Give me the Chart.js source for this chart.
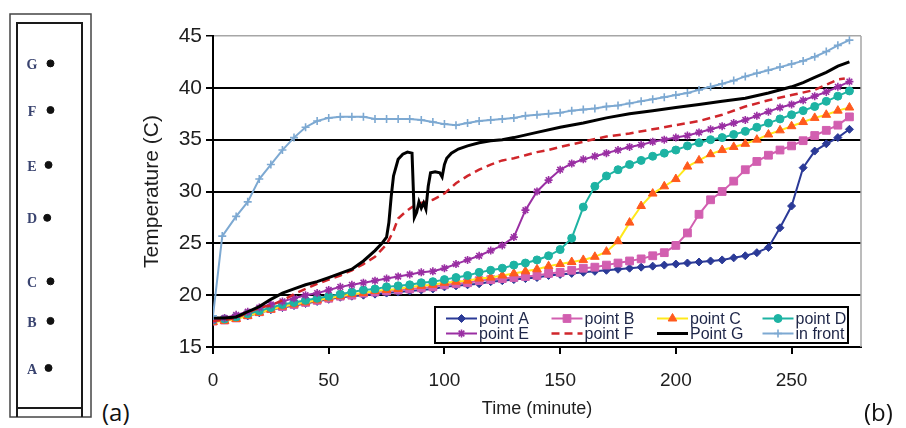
<!DOCTYPE html>
<html>
<head>
<meta charset="utf-8">
<script src="https://cdn.jsdelivr.net/npm/chart.js@4.4.1/dist/chart.umd.min.js"></script>
<style>
  html, body { margin: 0; padding: 0; background: #fff; }
  #page { position: relative; width: 906px; height: 428px; overflow: hidden; }
  canvas { position: absolute; top: 0; }
  #probe { left: 0; }
  #temps { left: 130px; }
  .tag { position: absolute; font-family: 'Open Sans', sans-serif; font-size: 24px; line-height: 24px; color: #111; }
</style>
</head>
<body>
<div id="page">
  <canvas id="probe" width="100" height="428"></canvas>
  <canvas id="temps" width="776" height="428"></canvas>
  <div class="tag" style="left:102px; top:400px">(a)</div>
  <div class="tag" style="left:864px; top:400px">(b)</div>
</div>
<script>
// sensor layout in the box (a): height in % of the inner box, horizontal offset in %
const sensorNames = ['A', 'B', 'C', 'D', 'E', 'F', 'G'];
const sensorHeight = [12.0, 24.0, 34.1, 50.3, 63.8, 77.8, 89.7];
const sensorOffset = [48.5, 51.5, 51.5, 46.5, 48.5, 51.5, 51.5];

// temperature records (b)
const minutes = [0, 5, 10, 15, 20, 25, 30, 35, 40, 45, 50, 55, 60, 65, 70, 75,
  80, 85, 90, 95, 100, 105, 110, 115, 120, 125, 130, 135, 140, 145, 150, 155,
  160, 165, 170, 175, 180, 185, 190, 195, 200, 205, 210, 215, 220, 225, 230, 235,
  240, 245, 250, 255, 260, 265, 270, 275];

const pointA = [17.5, 17.6, 17.8, 18.0, 18.3, 18.6, 18.8, 19.0, 19.2, 19.4, 19.6, 19.8, 19.9, 20.0, 20.1, 20.2,
  20.3, 20.4, 20.5, 20.6, 20.8, 20.9, 21.0, 21.1, 21.3, 21.4, 21.5, 21.6, 21.7, 21.9, 22.0, 22.1,
  22.2, 22.3, 22.4, 22.5, 22.6, 22.7, 22.8, 22.9, 23.0, 23.1, 23.2, 23.3, 23.4, 23.6, 23.8, 24.1,
  24.6, 26.5, 28.6, 32.3, 33.9, 34.6, 35.2, 36.0];

const pointB = [17.5, 17.6, 17.8, 18.1, 18.4, 18.7, 18.9, 19.1, 19.3, 19.5, 19.7, 19.9, 20.0, 20.2, 20.3, 20.4,
  20.5, 20.6, 20.7, 20.8, 21.0, 21.1, 21.2, 21.4, 21.5, 21.6, 21.7, 21.8, 21.9, 22.1, 22.2, 22.4,
  22.6, 22.7, 22.9, 23.1, 23.3, 23.5, 23.8, 24.1, 24.8, 26.0, 27.8, 29.2, 30.0, 31.0, 32.1, 32.9,
  33.5, 34.0, 34.4, 34.9, 35.4, 35.9, 36.4, 37.2];

const pointC = [17.4, 17.5, 17.7, 18.0, 18.3, 18.6, 18.9, 19.1, 19.3, 19.5, 19.7, 19.9, 20.1, 20.2, 20.4, 20.5,
  20.6, 20.8, 20.9, 21.0, 21.2, 21.3, 21.4, 21.6, 21.7, 21.9, 22.1, 22.3, 22.5, 22.8, 23.0, 23.2,
  23.4, 23.7, 24.2, 25.2, 27.0, 28.6, 29.8, 30.5, 31.2, 32.4, 33.0, 33.6, 34.0, 34.3, 34.6, 35.0,
  35.5, 35.9, 36.3, 36.7, 37.1, 37.4, 37.8, 38.1];

const pointD = [17.6, 17.7, 17.9, 18.2, 18.5, 18.8, 19.1, 19.3, 19.5, 19.7, 19.9, 20.1, 20.3, 20.5, 20.6, 20.8,
  20.9, 21.0, 21.2, 21.3, 21.5, 21.7, 21.9, 22.2, 22.4, 22.6, 22.9, 23.1, 23.4, 23.8, 24.4, 25.5,
  28.5, 30.5, 31.5, 32.1, 32.6, 33.0, 33.4, 33.7, 34.0, 34.4, 34.7, 35.0, 35.2, 35.5, 35.8, 36.2,
  36.6, 37.0, 37.4, 37.8, 38.2, 38.7, 39.2, 39.7];

const pointE = [17.6, 17.8, 18.1, 18.4, 18.8, 19.1, 19.4, 19.7, 20.0, 20.2, 20.5, 20.8, 21.0, 21.2, 21.4, 21.6,
  21.8, 22.0, 22.2, 22.3, 22.6, 23.0, 23.4, 23.8, 24.3, 24.8, 25.6, 28.2, 30.0, 31.1, 32.1, 32.7,
  33.1, 33.4, 33.7, 34.0, 34.3, 34.5, 34.8, 35.0, 35.2, 35.4, 35.7, 36.0, 36.3, 36.6, 36.9, 37.3,
  37.7, 38.1, 38.4, 38.8, 39.2, 39.6, 40.1, 40.6];

const fMinutes = [0, 5, 10, 15, 20, 25, 30, 35, 40, 45, 50, 55, 60, 65, 70, 75,
  78, 80, 83, 86, 90, 95, 100, 105, 110, 115, 120, 125, 130, 135, 140, 145, 150,
  160, 170, 180, 190, 200, 210, 220, 230, 240, 250, 260, 265, 270, 273];
const pointF = [17.5, 17.6, 17.8, 18.3, 18.8, 19.0, 19.5, 20.1, 20.6, 21.1, 21.5, 21.9, 22.4, 23.0, 23.7, 24.9,
  26.2, 27.4, 28.0, 28.5, 28.9, 29.2, 29.8, 30.8, 31.5, 32.1, 32.6, 33.0, 33.2, 33.5, 33.8, 34.0, 34.3,
  34.8, 35.3, 35.6, 36.0, 36.4, 36.8, 37.4, 38.2, 38.8, 39.3, 39.8, 40.3, 40.8, 40.9];

const gMinutes = [0, 5, 10, 15, 20, 25, 30, 35, 40, 45, 50, 55, 60, 65, 70,
  73, 75, 76, 77, 78, 80, 82, 84, 86, 87, 88, 89, 90, 91, 92, 93, 94, 96, 98, 99, 100, 101, 103, 106, 110,
  115, 120, 125, 130, 140, 150, 160, 170, 180, 190, 200, 210, 220, 230, 240, 250,
  255, 260, 265, 270, 275];
const pointG = [17.8, 17.8, 17.9, 18.4, 18.9, 19.6, 20.2, 20.6, 21.0, 21.3, 21.7, 22.1, 22.5, 23.3, 24.3,
  25.0, 25.6, 27.0, 29.5, 31.5, 33.1, 33.6, 33.8, 33.7, 27.5, 28.0, 29.0, 28.4, 28.9, 28.3, 30.5, 31.8, 31.9, 31.8, 31.4, 32.6, 33.2, 33.7, 34.1, 34.4,
  34.7, 34.9, 35.0, 35.2, 35.7, 36.2, 36.6, 37.1, 37.5, 37.8, 38.1, 38.4, 38.7, 39.0, 39.5, 40.1,
  40.5, 41.0, 41.5, 42.1, 42.5];

const frontMinutes = [0, 4, 10, 15, 20, 25, 30, 35, 40, 45, 50, 55, 60, 65, 70, 75,
  80, 85, 90, 95, 100, 105, 110, 115, 120, 125, 130, 135, 140, 145, 150, 155,
  160, 165, 170, 175, 180, 185, 190, 195, 200, 205, 210, 215, 220, 225, 230, 235,
  240, 245, 250, 255, 260, 265, 270, 275];
const inFront = [18.0, 25.7, 27.6, 29.0, 31.2, 32.6, 34.0, 35.2, 36.2, 36.8, 37.1, 37.2, 37.2, 37.2, 37.0, 37.0,
  37.0, 37.0, 36.9, 36.7, 36.5, 36.4, 36.6, 36.8, 36.9, 37.0, 37.1, 37.3, 37.4, 37.5, 37.6, 37.8,
  37.9, 38.0, 38.2, 38.3, 38.5, 38.7, 38.9, 39.1, 39.3, 39.5, 39.8, 40.1, 40.4, 40.7, 41.1, 41.4,
  41.7, 42.0, 42.3, 42.6, 43.0, 43.5, 44.1, 44.6];

const yTicks = [15, 20, 25, 30, 35, 40, 45];
const xTicks = [0, 50, 100, 150, 200, 250];

const SANS = "'Liberation Sans', Arial, sans-serif";
Chart.defaults.font.family = SANS;
Chart.defaults.color = '#1e1e1e';

const toPoints = (xs, ys) => xs.map((x, i) => ({ x, y: ys[i] }));

// ---------- (a) probe box ----------
const boxFrame = {
  id: 'boxFrame',
  beforeDraw(chart) {
    const { ctx, chartArea: a } = chart;
    ctx.save();
    ctx.strokeStyle = '#444';
    ctx.lineWidth = 1.5;
    ctx.strokeRect(10, 14, 81, 403);
    ctx.strokeStyle = '#1a1a1a';
    ctx.lineWidth = 2;
    ctx.beginPath();
    ctx.moveTo(a.left, 417); ctx.lineTo(a.left, a.top); ctx.lineTo(a.right, a.top); ctx.lineTo(a.right, 417);
    ctx.moveTo(a.left, 408); ctx.lineTo(a.right, 408);
    ctx.stroke();
    ctx.restore();
  },
  afterDatasetsDraw(chart) {
    const { ctx, chartArea: a } = chart;
    const meta = chart.getDatasetMeta(0);
    ctx.save();
    ctx.font = "bold 14px 'Liberation Serif', 'DejaVu Serif', serif";
    ctx.fillStyle = '#3a4470';
    ctx.textAlign = 'center';
    ctx.textBaseline = 'middle';
    meta.data.forEach((pt, i) => ctx.fillText(sensorNames[i], a.left + 15, pt.y + 2));
    ctx.restore();
  }
};

new Chart(document.getElementById('probe'), {
  type: 'scatter',
  data: {
    datasets: [{
      data: toPoints(sensorOffset, sensorHeight),
      pointRadius: 3.5,
      pointBackgroundColor: '#111',
      pointBorderColor: '#111'
    }]
  },
  options: {
    responsive: false,
    animation: false,
    layout: { padding: { left: 17, right: 18, top: 23, bottom: 13 } },
    plugins: { legend: { display: false }, tooltip: { enabled: false } },
    scales: {
      x: { display: false, min: 0, max: 100 },
      y: { display: false, min: 0, max: 100 }
    }
  },
  plugins: [boxFrame]
});

// ---------- (b) temperature chart ----------
const series = [
  { label: 'point A', data: toPoints(minutes, pointA), color: '#2b3a97', style: 'rectRot', r: 4 },
  { label: 'point B', data: toPoints(minutes, pointB), color: '#d25fb0', style: 'rect', r: 5.5 },
  { label: 'point C', data: toPoints(minutes, pointC), color: '#ffe81a', marker: '#ff5a1e', style: 'triangle', r: 5 },
  { label: 'point D', data: toPoints(minutes, pointD), color: '#1db3a3', style: 'circle', r: 4 },
  { label: 'point E', data: toPoints(minutes, pointE), color: '#9a2fa3', style: 'star', r: 4 },
  { label: 'point F', data: toPoints(fMinutes, pointF), color: '#d0262b', dash: [8, 5], r: 0 },
  { label: 'Point G', data: toPoints(gMinutes, pointG), color: '#000000', r: 0, width: 3 },
  { label: 'in front', data: toPoints(frontMinutes, inFront), color: '#7da9d2', style: 'cross', r: 4 }
];

const datasets = series.map((s, i) => ({
  label: s.label,
  data: s.data,
  borderColor: s.color,
  backgroundColor: s.color,
  borderWidth: s.width || (s.dash ? 2.5 : 2),
  borderDash: s.dash || [],
  pointStyle: s.style || 'circle',
  pointRadius: s.r,
  pointBackgroundColor: s.marker || s.color,
  pointBorderColor: s.marker || s.color,
  pointBorderWidth: (s.style === 'star' || s.style === 'cross') ? 1.6 : 1,
  tension: 0,
  order: series.length - i   // later series drawn on top
}));

// plot frame on the right side + legend box inside the plot
const plotExtras = {
  id: 'plotExtras',
  beforeDatasetsDraw(chart) {
    const { ctx, chartArea: a } = chart;
    ctx.save();
    ctx.strokeStyle = '#a6a6a6';
    ctx.lineWidth = 1.5;
    ctx.beginPath();
    ctx.moveTo(a.right, a.top);
    ctx.lineTo(a.right, a.bottom);
    ctx.stroke();
    ctx.restore();
  },
  afterDraw(chart) {
    const { ctx, chartArea: a } = chart;
    const left = a.left + 222, right = a.right - 13;
    const top = a.bottom - 40, bottom = a.bottom - 4;
    ctx.save();
    ctx.fillStyle = '#fff';
    ctx.fillRect(left, top, right - left, bottom - top);
    ctx.strokeStyle = '#000';
    ctx.lineWidth = 2;
    ctx.strokeRect(left, top, right - left, bottom - top);
    chart.data.datasets.forEach((ds, i) => {
      const x0 = left + 11 + (i % 4) * 105.5;
      const y = top + 11.5 + Math.floor(i / 4) * 15;
      ctx.strokeStyle = ds.borderColor;
      ctx.lineWidth = ds.borderWidth;
      ctx.setLineDash(ds.borderDash);
      ctx.beginPath();
      ctx.moveTo(x0, y);
      ctx.lineTo(x0 + 31, y);
      ctx.stroke();
      ctx.setLineDash([]);
      if (ds.pointRadius > 0) {
        ctx.fillStyle = ds.pointBackgroundColor;
        ctx.strokeStyle = ds.pointBorderColor;
        ctx.lineWidth = ds.pointBorderWidth;
        Chart.helpers.drawPoint(ctx, {
          pointStyle: ds.pointStyle, radius: ds.pointRadius, rotation: 0, borderWidth: ds.pointBorderWidth
        }, x0 + 15.5, y);
      }
      ctx.fillStyle = '#1d2547';
      ctx.font = '16px ' + SANS;
      ctx.textBaseline = 'middle';
      ctx.fillText(ds.label, x0 + 33, y + 1);
    });
    ctx.restore();
  }
};

new Chart(document.getElementById('temps'), {
  type: 'line',
  data: { datasets },
  options: {
    responsive: false,
    animation: false,
    layout: { padding: { left: 6, top: 36, right: 45, bottom: 4 } },
    plugins: { legend: { display: false }, tooltip: { enabled: false } },
    scales: {
      x: {
        type: 'linear',
        min: 0,
        max: 280,
        afterFit: s => { s.height = 77; },
        afterBuildTicks: s => { s.ticks = xTicks.map(v => ({ value: v })); },
        ticks: { font: { size: 19 }, color: '#1e1e1e', padding: 15, includeBounds: false },
        grid: { drawOnChartArea: false, color: '#000', tickColor: '#000', tickLength: 7, lineWidth: 2 },
        border: { color: '#000', width: 2 },
        title: { display: true, text: 'Time (minute)', font: { size: 18 }, color: '#1e1e1e' }
      },
      y: {
        min: 15,
        max: 45,
        afterFit: s => { s.width = 77; },
        afterBuildTicks: s => { s.ticks = yTicks.map(v => ({ value: v })); },
        ticks: { font: { size: 21 }, color: '#1e1e1e', padding: 4 },
        grid: {
          color: c => (c.tick && c.tick.value === 45) ? '#a6a6a6' : '#000',
          lineWidth: c => (c.tick && c.tick.value === 45) ? 1.5 : 2,
          tickColor: '#000',
          tickLength: 7
        },
        border: { color: '#000', width: 2 },
        title: { display: true, text: 'Temperature (C)', font: { size: 21 }, color: '#1e1e1e' }
      }
    }
  },
  plugins: [plotExtras]
});
</script>
</body>
</html>
